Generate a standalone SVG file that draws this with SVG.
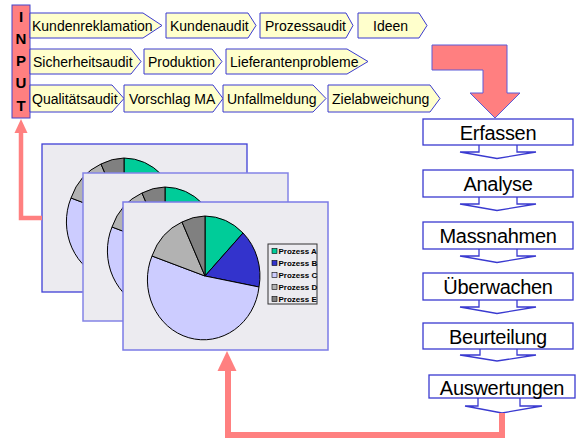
<svg xmlns="http://www.w3.org/2000/svg" xmlns:xlink="http://www.w3.org/1999/xlink" width="576" height="441" viewBox="0 0 576 441">
<style>
.tag{fill:#ffffcc;stroke:#3a3ad0;stroke-width:1}
.tagt{font-family:"Liberation Sans",Arial,sans-serif;font-size:14px;fill:#000}
.inp{font-family:"Liberation Sans",Arial,sans-serif;font-size:15px;font-weight:bold;fill:#000;text-anchor:middle}
.box{fill:#fff;stroke:#3a3ad0;stroke-width:1.3}
.boxt{font-family:"Liberation Sans",Arial,sans-serif;font-size:20px;fill:#000;text-anchor:middle;letter-spacing:-0.3px}
.chev{fill:#fff;stroke:#3a3ad0;stroke-width:1.3}
.pink{fill:none;stroke:#ff8080;stroke-linejoin:miter}
.pinkf{fill:#ff8080}
.slide{fill:#ecebf0}
.sl{stroke:#000;stroke-width:1}
.leg{font-family:"Liberation Sans",Arial,sans-serif;font-size:8px;font-weight:bold;fill:#000}
</style>
<defs>
<g id="chart">
<path class="sl" fill="#00cc99" d="M82,74 L82,14 A56,60 0 0 1 120,31 Z"/>
<path class="sl" fill="#3333cc" d="M82,74 L120,31 A56,60 0 0 1 136,85 Z"/>
<path class="sl" fill="#ccccff" d="M82,74 L136,85 A56,60 0 1 1 29,54 Z"/>
<path class="sl" fill="#b2b2b2" d="M82,74 L29,54 A56,60 0 0 1 59,20 Z"/>
<path class="sl" fill="#808080" d="M82,74 L59,20 A56,60 0 0 1 82,14 Z"/>
<rect x="145" y="42" width="49" height="60" fill="none" stroke="#333" stroke-width="1"/>
<rect x="149" y="46.5" width="5" height="5" fill="#00cc99" stroke="#000" stroke-width="0.6"/>
<rect x="149" y="58.5" width="5" height="5" fill="#3333cc" stroke="#000" stroke-width="0.6"/>
<rect x="149" y="70.5" width="5" height="5" fill="#ccccff" stroke="#000" stroke-width="0.6"/>
<rect x="149" y="82.5" width="5" height="5" fill="#b2b2b2" stroke="#000" stroke-width="0.6"/>
<rect x="149" y="94.5" width="5" height="5" fill="#808080" stroke="#000" stroke-width="0.6"/>
<text class="leg" x="155.5" y="52">Prozess A</text>
<text class="leg" x="155.5" y="64">Prozess B</text>
<text class="leg" x="155.5" y="76">Prozess C</text>
<text class="leg" x="155.5" y="88">Prozess D</text>
<text class="leg" x="155.5" y="100">Prozess E</text>
</g>
</defs>

<g id="input">
<rect x="12" y="5" width="18" height="113" fill="#ff7f80" stroke="#4444cc" stroke-width="1"/>
<text class="inp" x="21" y="22">I</text>
<text class="inp" x="21" y="44">N</text>
<text class="inp" x="21" y="66">P</text>
<text class="inp" x="21" y="88">U</text>
<text class="inp" x="21" y="111">T</text>
</g>

<g id="tag-kundenreklamation"><polygon class="tag" points="30,13 143,13 162,25.5 143,38 30,38"/><text class="tagt" x="32" y="31">Kundenreklamation</text></g>
<g id="tag-kundenaudit"><polygon class="tag" points="166,13 248,13 256,25.5 248,38 166,38"/><text class="tagt" x="170" y="31">Kundenaudit</text></g>
<g id="tag-prozessaudit"><polygon class="tag" points="260,13 346,13 353,25.5 346,38 260,38"/><text class="tagt" x="265" y="31">Prozessaudit</text></g>
<g id="tag-ideen"><polygon class="tag" points="358,13 419,13 427,25.5 419,38 358,38"/><text class="tagt" x="373" y="31">Ideen</text></g>

<g id="tag-sicherheitsaudit"><polygon class="tag" points="30,49 131,49 141,61.5 131,74 30,74"/><text class="tagt" x="33" y="67">Sicherheitsaudit</text></g>
<g id="tag-produktion"><polygon class="tag" points="144,49 212,49 222,61.5 212,74 144,74"/><text class="tagt" x="148" y="67">Produktion</text></g>
<g id="tag-lieferantenprobleme"><polygon class="tag" points="226,49 347,49 368,61.5 347,74 226,74"/><text class="tagt" x="230" y="67">Lieferantenprobleme</text></g>

<g id="tag-qualitaetsaudit"><polygon class="tag" points="30,85 112,85 124,98.5 112,112 30,112"/><text class="tagt" x="32" y="104">Qualitätsaudit</text></g>
<g id="tag-vorschlag"><polygon class="tag" points="124,85 213,85 223,98.5 213,112 124,112"/><text class="tagt" x="129" y="104">Vorschlag MA</text></g>
<g id="tag-unfallmeldung"><polygon class="tag" points="223,85 313,85 326,98.5 313,112 223,112"/><text class="tagt" x="227" y="104">Unfallmeldung</text></g>
<g id="tag-zielabweichung"><polygon class="tag" points="328,85 430,85 440,98.5 430,112 328,112"/><text class="tagt" x="332" y="104">Zielabweichung</text></g>

<g id="slide1"><rect class="slide" x="42" y="144" width="205" height="148" stroke="#3f3fd6" stroke-width="1.3"/><use xlink:href="#chart" href="#chart" transform="translate(42,144)"/></g>
<g id="slide2"><rect class="slide" x="83" y="173" width="205" height="148" stroke="#8484e6" stroke-width="1.5"/><use xlink:href="#chart" href="#chart" transform="translate(83,173)"/></g>
<g id="slide3"><rect class="slide" x="123" y="202" width="205" height="148" stroke="#7b7be6" stroke-width="1.5"/><use xlink:href="#chart" href="#chart" transform="translate(123,202)"/></g>

<g id="connectors">
<polygon points="432,45 507,45 507,93 520,93 495,118 470,93 483,93 483,70 432,70" fill="#ff7f80" stroke="#5a5ad8" stroke-width="1"/>
<path class="chev" d="M479,145 L479,152 L460,152 L497,158.5 L536,152 L517,152 L517,145"/>
<path class="chev" d="M479,197 L479,204 L460,204 L497,210.5 L536,204 L517,204 L517,197"/>
<path class="chev" d="M479,249 L479,256 L460,256 L497,262.5 L536,256 L517,256 L517,249"/>
<path class="chev" d="M479,300 L479,307 L460,307 L497,313.5 L536,307 L517,307 L517,300"/>
<path class="chev" d="M480,349 L480,355 L460,355 L497,361 L536,355 L517,355 L517,349"/>
<path class="chev" d="M478,398 L478,406 L465,406 L502,413 L542,406 L520,406 L520,398"/>
<path class="pink" stroke-width="4.5" d="M42,218 L21,218 L21,131"/>
<polygon class="pinkf" points="21,119 27.5,133 14.5,133"/>
<path class="pink" stroke-width="6" d="M502,413 L502,435 L228,435 L228,369"/>
<polygon class="pinkf" points="227,351 236.5,371 217.5,371"/>
</g>

<g id="erfassen"><rect class="box" x="423" y="119" width="150" height="26"/><text class="boxt" x="498" y="140">Erfassen</text></g>
<g id="analyse"><rect class="box" x="423" y="170" width="150" height="27"/><text class="boxt" x="498" y="191">Analyse</text></g>
<g id="massnahmen"><rect class="box" x="423" y="222" width="150" height="27"/><text class="boxt" x="498" y="243">Massnahmen</text></g>
<g id="ueberwachen"><rect class="box" x="423" y="273" width="150" height="27"/><text class="boxt" x="498" y="294">Überwachen</text></g>
<g id="beurteilung"><rect class="box" x="423" y="323" width="150" height="26"/><text class="boxt" x="498" y="344">Beurteilung</text></g>
<g id="auswertungen"><rect class="box" x="429" y="375" width="146" height="23"/><text class="boxt" x="502" y="395">Auswertungen</text></g>
</svg>
